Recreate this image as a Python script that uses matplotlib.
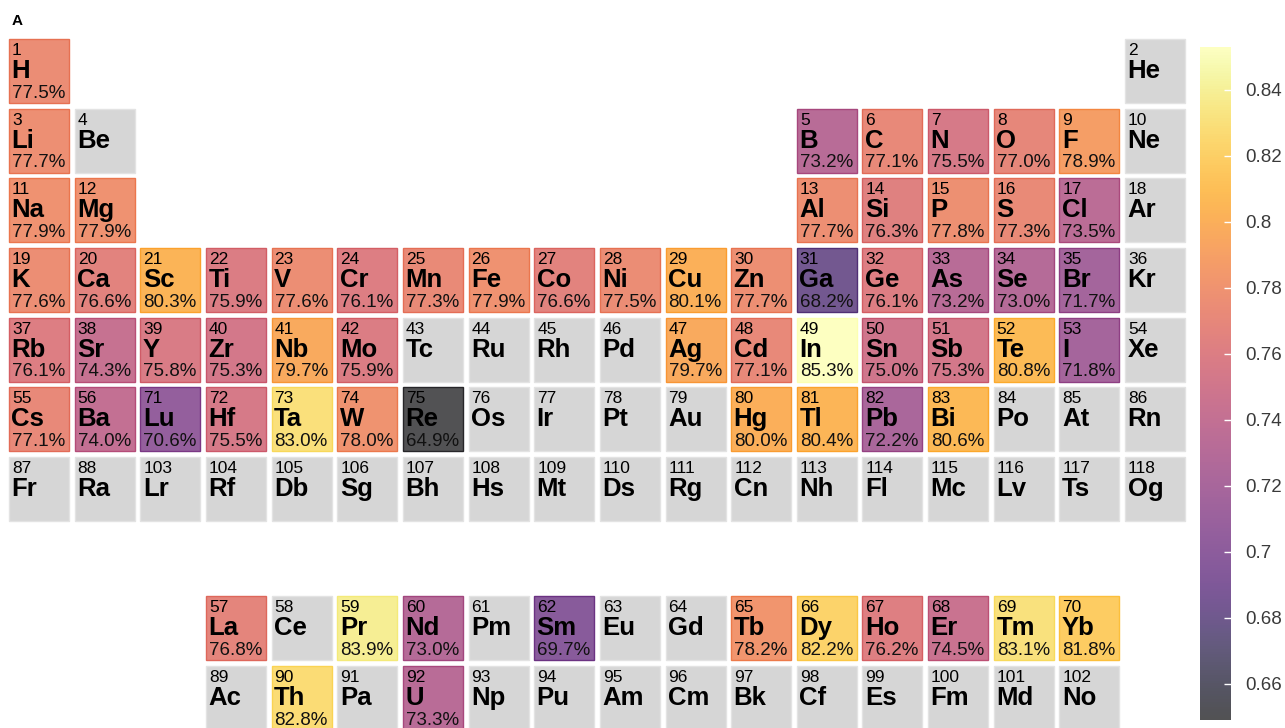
import matplotlib
matplotlib.use("Agg")
import matplotlib.pyplot as plt
import numpy as np
from matplotlib.colors import ListedColormap, Normalize
from matplotlib.patches import Rectangle
import matplotlib.cm as cm

plt.rcParams['font.family'] = ['Liberation Sans', 'DejaVu Sans']

# ---------------- data ----------------
symbols = ["H", "He", "Li", "Be", "B", "C", "N", "O", "F", "Ne",
           "Na", "Mg", "Al", "Si", "P", "S", "Cl", "Ar", "K", "Ca",
           "Sc", "Ti", "V", "Cr", "Mn", "Fe", "Co", "Ni", "Cu", "Zn",
           "Ga", "Ge", "As", "Se", "Br", "Kr", "Rb", "Sr", "Y", "Zr",
           "Nb", "Mo", "Tc", "Ru", "Rh", "Pd", "Ag", "Cd", "In", "Sn",
           "Sb", "Te", "I", "Xe", "Cs", "Ba", "La", "Ce", "Pr", "Nd",
           "Pm", "Sm", "Eu", "Gd", "Tb", "Dy", "Ho", "Er", "Tm", "Yb",
           "Lu", "Hf", "Ta", "W", "Re", "Os", "Ir", "Pt", "Au", "Hg",
           "Tl", "Pb", "Bi", "Po", "At", "Rn", "Fr", "Ra", "Ac", "Th",
           "Pa", "U", "Np", "Pu", "Am", "Cm", "Bk", "Cf", "Es", "Fm",
           "Md", "No", "Lr", "Rf", "Db", "Sg", "Bh", "Hs", "Mt", "Ds",
           "Rg", "Cn", "Nh", "Fl", "Mc", "Lv", "Ts", "Og"]

values = {
    "H": 0.775, "Li": 0.777, "B": 0.732, "C": 0.771, "N": 0.755, "O": 0.770,
    "F": 0.789, "Na": 0.779, "Mg": 0.779, "Al": 0.777, "Si": 0.763, "P": 0.778,
    "S": 0.773, "Cl": 0.735, "K": 0.776, "Ca": 0.766, "Sc": 0.803, "Ti": 0.759,
    "V": 0.776, "Cr": 0.761, "Mn": 0.773, "Fe": 0.779, "Co": 0.766, "Ni": 0.775,
    "Cu": 0.801, "Zn": 0.777, "Ga": 0.682, "Ge": 0.761, "As": 0.732, "Se": 0.730,
    "Br": 0.717, "Rb": 0.761, "Sr": 0.743, "Y": 0.758, "Zr": 0.753, "Nb": 0.797,
    "Mo": 0.759, "Ag": 0.797, "Cd": 0.771, "In": 0.853, "Sn": 0.750, "Sb": 0.753,
    "Te": 0.808, "I": 0.718, "Cs": 0.771, "Ba": 0.740, "Lu": 0.706, "Hf": 0.755,
    "Ta": 0.830, "W": 0.780, "Re": 0.649, "Hg": 0.800, "Tl": 0.804, "Pb": 0.722,
    "Bi": 0.806, "La": 0.768, "Pr": 0.839, "Nd": 0.730, "Sm": 0.697, "Tb": 0.782,
    "Dy": 0.822, "Ho": 0.762, "Er": 0.745, "Tm": 0.831, "Yb": 0.818, "Th": 0.828,
    "U": 0.733,
}

cbar_ticks = [0.66, 0.68, 0.70, 0.72, 0.74, 0.76, 0.78, 0.80, 0.82, 0.84]
panel_label = "A"


def grid_position(z):
    """Standard periodic-table (column, row) for atomic number z."""
    if z == 1:
        return 1, 1
    if z == 2:
        return 18, 1
    if z <= 10:
        return (z - 2, 2) if z <= 4 else (z + 8, 2)
    if z <= 18:
        return (z - 10, 3) if z <= 12 else (z, 3)
    if z <= 36:
        return z - 18, 4
    if z <= 54:
        return z - 36, 5
    if z <= 56:
        return z - 54, 6
    if z <= 70:
        return z - 57 + 4, 9
    if z <= 86:
        return z - 71 + 3, 6
    if z <= 88:
        return z - 86, 7
    if z <= 102:
        return z - 89 + 4, 10
    return z - 103 + 3, 7


# ---------------- styling ----------------
W, H = 1285, 728
PX, PY = 65.65, 69.67        # pixel pitch per column / row
X0, Y0 = 9, 39               # pixel of column 1 / row 1 top-left
CW, CH = 60 / PX, 64 / PY    # cell size in grid units

alpha_face = 0.68
alpha_edge = 0.85
base = plt.get_cmap('inferno')(np.linspace(0, 1, 256))[:, :3]
face_cmap = ListedColormap(alpha_face * base + (1 - alpha_face))
edge_cmap = ListedColormap(alpha_edge * base + (1 - alpha_edge))
vals = np.array(list(values.values()))
norm = Normalize(vmin=vals.min(), vmax=vals.max())

fig = plt.figure(figsize=(W / 100, H / 100), dpi=100)
ax = fig.add_axes([0, 0, 1, 1])
ax.set_xlim(1 - X0 / PX, 1 + (W - X0) / PX)
ax.set_ylim(1 + (H - Y0) / PY, 1 - Y0 / PY)
ax.axis('off')

for i, sym in enumerate(symbols):
    z = i + 1
    col, row = grid_position(z)
    v = values.get(sym)
    if v is None:
        fc, ec = '#d6d6d6', '#e3e3e3'
    else:
        fc, ec = face_cmap(norm(v)), edge_cmap(norm(v))
    ax.add_patch(Rectangle((col, row), CW, CH, facecolor=fc, edgecolor=ec,
                           linewidth=1.0))
    tx = col + 3 / PX
    ax.text(tx, row + 16 / PY, str(z), fontsize=12.5, va='baseline',
            ha='left', color='black')
    ax.text(tx - 0.5 / PX, row + 39 / PY, sym, fontsize=18.5,
            fontweight='bold', va='baseline', ha='left', color='black')
    if v is not None:
        ax.text(tx, row + 58.5 / PY, f"{v * 100:.1f}%", fontsize=13.5,
                va='baseline', ha='left', color='#111111')

fig.text(12 / W, 1 - 25 / H, panel_label, fontsize=11, fontweight='bold',
         va='baseline', ha='left')

# ---------------- colorbar ----------------
cax = fig.add_axes([1200 / W, (H - 720) / H, 31 / W, 673 / H])
sm = cm.ScalarMappable(norm=norm, cmap=face_cmap)
cb = fig.colorbar(sm, cax=cax, ticks=cbar_ticks)
cb.outline.set_visible(False)
cb.ax.set_yticklabels([f"{t:g}" for t in cbar_ticks])
cb.ax.tick_params(direction='in', length=5, width=1, color='white',
                  labelsize=13.5, labelcolor='#3a3a3a', pad=10)

fig.savefig("out.png", dpi=100)
